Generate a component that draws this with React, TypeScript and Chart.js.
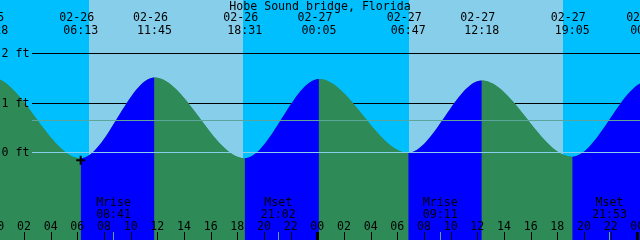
import { useEffect, useRef } from "react";
import { Chart, registerables } from "chart.js";

Chart.register(...registerables);

// ---- data ----
const chartTitle = "Hobe Sound bridge, Florida";

// tide extremes (the first and last lie just outside the visible window)
const tideDates = ["02-25", "02-25", "02-26", "02-26", "02-26", "02-27", "02-27", "02-27", "02-27", "02-28", "02-28"];
const tideClocks = ["17:50", "23:28", "06:13", "11:45", "18:31", "00:05", "06:47", "12:18", "19:05", "00:44", "07:25"];
const tideHeights = [-0.1, 1.53, -0.11, 1.52, -0.11, 1.49, 0.0, 1.46, -0.08, 1.44, 0.0];

const sunriseDates = ["02-26", "02-27"];
const sunriseClocks = ["06:51", "06:51"];
const sunsetDates = ["02-26", "02-27"];
const sunsetClocks = ["18:24", "18:24"];

const moonEventNames = ["Mrise", "Mset", "Mrise", "Mset"];
const moonDates = ["02-26", "02-26", "02-27", "02-27"];
const moonClocks = ["08:41", "21:02", "09:11", "21:53"];

const hourTicks = [0, 2, 4, 6, 8, 10, 12, 14, 16, 18, 20, 22, 24, 26, 28, 30, 32, 34, 36, 38, 40, 42, 44, 46, 48];
const hourTickLabels = ["00", "02", "04", "06", "08", "10", "12", "14", "16", "18", "20", "22",
  "00", "02", "04", "06", "08", "10", "12", "14", "16", "18", "20", "22", "00"];
const midnightTicks = [0, 24, 48];

const levelValues = [2, 1, 0];
const levelLabels = ["2 ft", "1 ft", "0 ft"];
const meanLevel = 0.65;

const markerDate = "02-26";
const markerClock = "06:13";
const markerHeight = -0.15;

const viewStartHour = 0.165;
const viewEndHour = 48.165;
const heightMin = -1.7626;
const heightMax = 3.0859;

// ---- styles ----
const NIGHT = "#00BFFF";
const DAY = "#87CEEB";
const RISING = "#0000FF";
const FALLING = "#2E8B57";
const MEAN_COLOR = "#5CA59A";
const ZERO_COLOR = "#87CEEB";
const FONT = "11.6px 'DejaVu Sans Mono', 'Liberation Mono', monospace";

function toHours(date: string, clock: string): number {
  const day = parseInt(date.slice(3), 10);
  const [hh, mm] = clock.split(":").map((s) => parseInt(s, 10));
  return (day - 26) * 24 + hh + mm / 60;
}

const overlayPlugin = {
  id: "tideOverlay",
  beforeDraw(chart: any) {
    const { ctx, width, height } = chart;
    const x = chart.scales.x;
    const y = chart.scales.y;
    ctx.save();
    ctx.fillStyle = NIGHT;
    ctx.fillRect(0, 0, width, height);
    ctx.fillStyle = DAY;
    for (let i = 0; i < sunriseDates.length; i++) {
      const x0 = Math.round(x.getPixelForValue(toHours(sunriseDates[i], sunriseClocks[i])));
      const x1 = Math.round(x.getPixelForValue(toHours(sunsetDates[i], sunsetClocks[i])));
      ctx.fillRect(x0, 0, x1 - x0, height);
    }
    ctx.fillStyle = "#000";
    for (const v of levelValues) {
      if (v === 0) continue;
      const yy = Math.floor(y.getPixelForValue(v));
      ctx.fillRect(32, yy, width - 32, 1);
    }
    ctx.restore();
  },
  afterDatasetsDraw(chart: any) {
    const { ctx, width } = chart;
    const x = chart.scales.x;
    const y = chart.scales.y;
    ctx.save();
    ctx.fillStyle = MEAN_COLOR;
    ctx.fillRect(32, Math.floor(y.getPixelForValue(meanLevel)), width - 32, 1);
    ctx.fillStyle = ZERO_COLOR;
    ctx.fillRect(32, Math.floor(y.getPixelForValue(0)), width - 32, 1);

    ctx.font = FONT;
    ctx.fillStyle = "#000";
    ctx.textBaseline = "alphabetic";

    ctx.textAlign = "left";
    levelValues.forEach((v, i) => {
      const yy = Math.floor(y.getPixelForValue(v));
      ctx.fillText(levelLabels[i], 1.5, yy + 4);
    });

    ctx.textAlign = "center";
    ctx.fillText(chartTitle, width / 2, 10);

    tideDates.forEach((d, i) => {
      const px = x.getPixelForValue(toHours(d, tideClocks[i]));
      ctx.fillText(d, px - 4, 21);
      ctx.fillText(tideClocks[i], px, 34);
    });

    moonDates.forEach((d, i) => {
      const px = x.getPixelForValue(toHours(d, moonClocks[i]));
      ctx.fillStyle = "#000";
      ctx.fillText(moonEventNames[i], px, 206);
      ctx.fillText(moonClocks[i], px, 218);
    });

    hourTicks.forEach((h, i) => {
      const px = x.getPixelForValue(h);
      ctx.fillStyle = "#000";
      ctx.fillText(hourTickLabels[i], px - 0.5, 230);
      ctx.fillRect(Math.floor(px), 232, 1, 8);
    });
    moonDates.forEach((d, i) => {
      const px = x.getPixelForValue(toHours(d, moonClocks[i]));
      ctx.fillStyle = MEAN_COLOR;
      ctx.fillRect(Math.floor(px), 232, 1, 8);
    });
    ctx.fillStyle = "#000";
    midnightTicks.forEach((h) => {
      const px = x.getPixelForValue(h);
      ctx.fillRect(Math.floor(px) - 1, 232, 3, 8);
    });
    ctx.restore();
  },
};

export default function App() {
  const canvasRef = useRef<HTMLCanvasElement | null>(null);

  useEffect(() => {
    document.body.style.margin = "0";
    const canvas = canvasRef.current;
    if (!canvas) return;
    const tidePoints = tideDates.map((d, i) => ({ x: toHours(d, tideClocks[i]), y: tideHeights[i] }));
    const common = {
      borderWidth: 0,
      borderColor: "rgba(0,0,0,0)",
      pointRadius: 0,
      fill: "start",
      cubicInterpolationMode: "monotone",
      capBezierPoints: false,
      clip: false,
    };
    const chart = new Chart(canvas, {
      type: "line",
      data: {
        datasets: [
          {
            data: [{ x: toHours(markerDate, markerClock), y: markerHeight }],
            showLine: false,
            pointStyle: "cross",
            pointRadius: 4.5,
            pointBorderWidth: 2,
            pointBorderColor: "#000",
            pointBackgroundColor: "#000",
            order: 0,
          } as any,
          {
            ...common,
            data: tidePoints,
            backgroundColor: FALLING,
            segment: {
              backgroundColor: (c: any) => (c.p1.parsed.y > c.p0.parsed.y ? RISING : FALLING),
            },
            order: 1,
          } as any,
          {
            ...common,
            data: tidePoints,
            backgroundColor: FALLING,
            order: 2,
          } as any,
        ],
      },
      options: {
        responsive: false,
        devicePixelRatio: 1,
        animation: false,
        events: [],
        layout: { padding: 0, autoPadding: false },
        plugins: { legend: { display: false }, tooltip: { enabled: false } },
        scales: {
          x: { type: "linear", min: viewStartHour, max: viewEndHour, display: false },
          y: { type: "linear", min: heightMin, max: heightMax, display: false },
        },
      },
      plugins: [overlayPlugin],
    });
    return () => chart.destroy();
  }, []);

  return (
    <canvas
      ref={canvasRef}
      width={640}
      height={240}
      style={{ display: "block", width: "640px", height: "240px" }}
    />
  );
}
